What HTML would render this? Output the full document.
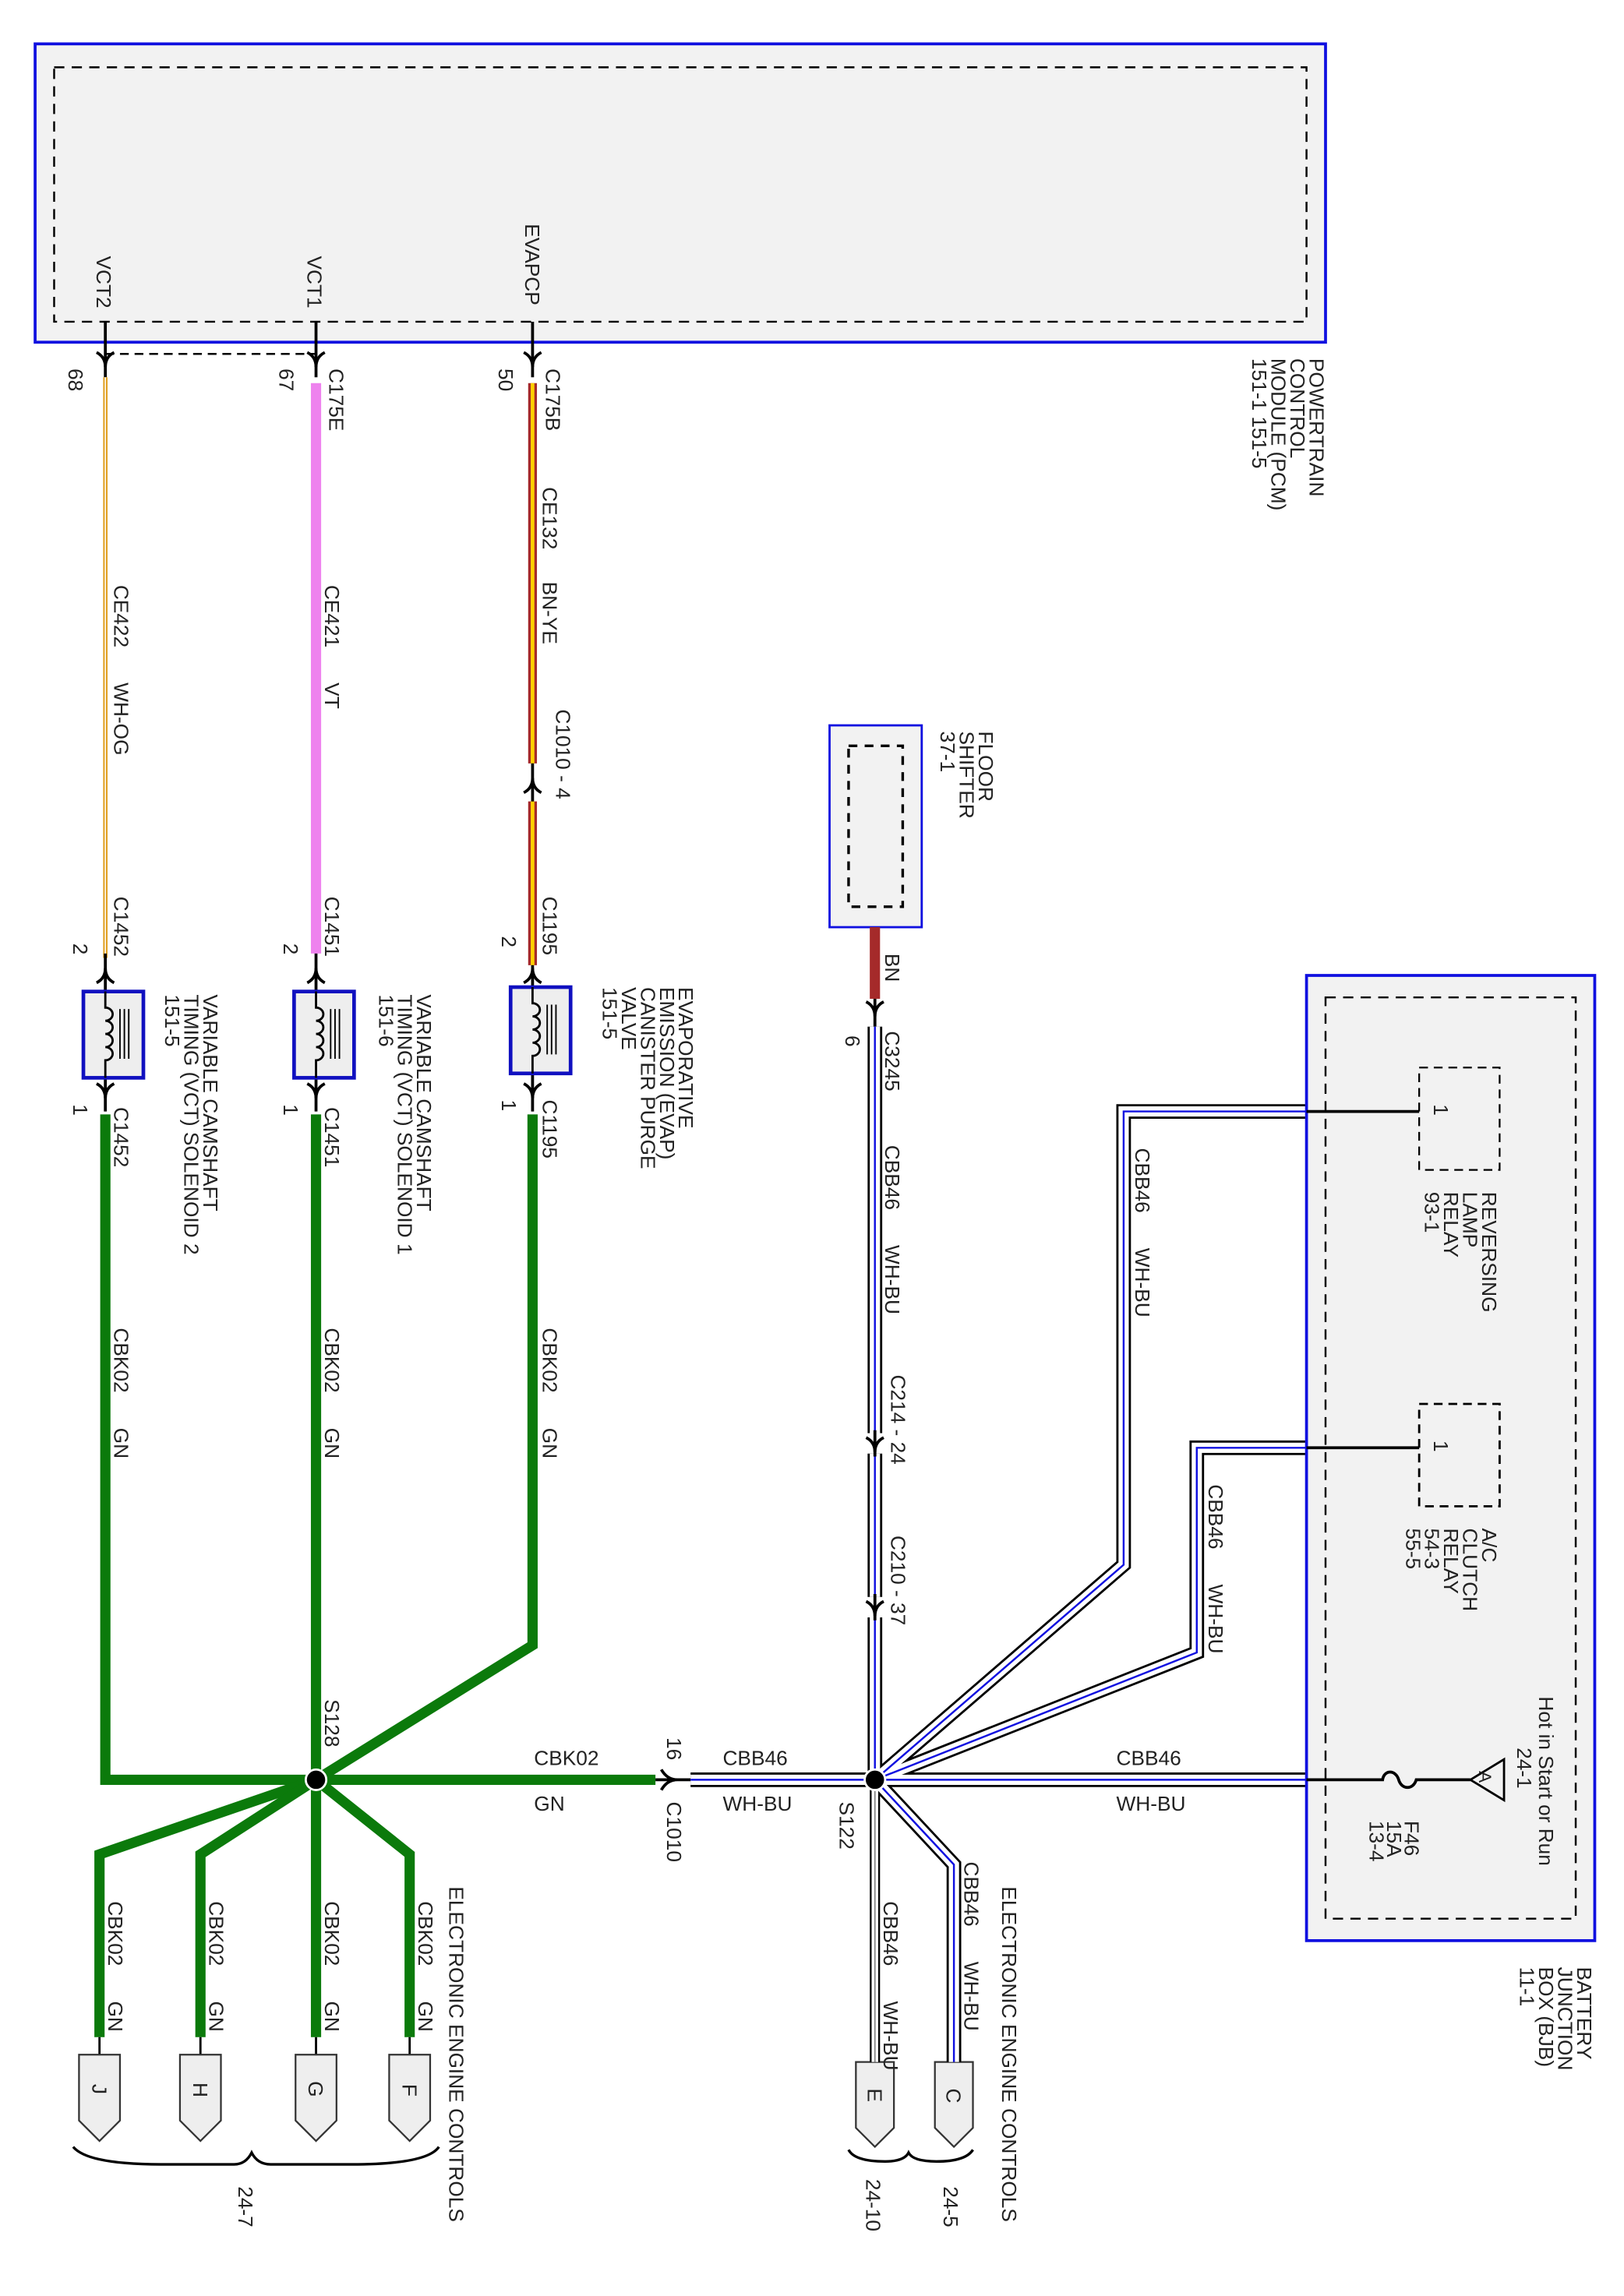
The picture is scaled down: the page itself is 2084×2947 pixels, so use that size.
<!DOCTYPE html>
<html><head><meta charset="utf-8"><style>
html,body{margin:0;padding:0;background:#fff}
svg{display:block}
text{font-family:"Liberation Sans",sans-serif;font-size:14px;fill:#222}
</style></head><body>
<svg width="2084" height="2947" viewBox="0 0 1110 1570" preserveAspectRatio="none" xmlns="http://www.w3.org/2000/svg">
<defs>
<g id="arD"><path d="M-6 -7 Q0 -4 0 3 Q0 -4 6 -7" fill="none" stroke="#000" stroke-width="2"/></g>
</defs>
<!-- PCM -->
<rect x="24" y="30" width="882" height="204" fill="#f2f2f2" stroke="#1010e0" stroke-width="2"/>
<rect x="37" y="46" width="856" height="174" fill="none" stroke="#000" stroke-width="1.3" stroke-dasharray="7,5"/>
<path d="M72 242 H216" stroke="#000" stroke-width="1.3" stroke-dasharray="6,4"/>
<path d="M72 220 V258 M216 220 V258 M364 220 V258" stroke="#000" stroke-width="2"/>
<use href="#arD" x="72" y="248"/><use href="#arD" x="216" y="248"/><use href="#arD" x="364" y="248"/>
<!-- VCT2 wire -->
<path d="M72 258 V655" stroke="#e0a020" stroke-width="3"/>
<path d="M72 258 V655" stroke="#fff" stroke-width="0.8"/>
<!-- VCT1 wire -->
<path d="M216 262 V652" stroke="#ee82ee" stroke-width="7"/>
<!-- EVAP wire -->
<path d="M364 262 V522 M364 548 V660" stroke="#a52a2a" stroke-width="6"/>
<path d="M364 262 V522 M364 548 V660" stroke="#ffd000" stroke-width="2.5"/>
<path d="M364 522 V548" stroke="#000" stroke-width="2"/>
<g transform="translate(364,535) scale(1,-1)"><use href="#arD"/></g>
<path d="M72 652 V760 M216 652 V760 M364 660 V760" stroke="#000" stroke-width="2"/>
<g transform="translate(72,665) scale(1,-1)"><use href="#arD"/></g>
<g transform="translate(216,665) scale(1,-1)"><use href="#arD"/></g>
<g transform="translate(364,665) scale(1,-1)"><use href="#arD"/></g>
<use href="#arD" x="72" y="748"/><use href="#arD" x="216" y="748"/><use href="#arD" x="364" y="748"/>
<!-- components -->
<g id="sol">
<rect x="57" y="678" width="41" height="59" fill="#eee" stroke="#1010c0" stroke-width="2.5"/>
<path d="M72 678 V689 a5 4.5 0 0 1 0 9 a5 4.5 0 0 1 0 9 a5 4.5 0 0 1 0 9 a5 4.5 0 0 1 0 9 V737" fill="none" stroke="#000" stroke-width="1.5"/>
<path d="M82 690 V724 M85 690 V724 M88 690 V724" stroke="#000" stroke-width="1"/>
</g>
<use href="#sol" x="144"/>
<use href="#sol" x="292" y="-3"/>
<!-- green wires -->
<g fill="none" stroke="#0b7a0b" stroke-width="7" stroke-linejoin="miter">
<path d="M72 762 V1217 H448"/>
<path d="M216 762 V1217"/>
<path d="M364 762 V1125 L216 1217"/>
<path d="M216 1217 L68 1268 V1393"/>
<path d="M216 1217 L137 1268 V1393"/>
<path d="M216 1217 V1393"/>
<path d="M216 1217 L280 1268 V1393"/>
</g>
<path d="M448 1217 H472 M452 1210 Q456 1217 463 1217 Q456 1217 452 1224" fill="none" stroke="#000" stroke-width="2"/>
<circle cx="216" cy="1217" r="7" fill="#000" stroke="#fff" stroke-width="1.5"/>
<path d="M68 1393 V1405 M137 1393 V1405 M216 1393 V1405 M280 1393 V1405" stroke="#000" stroke-width="1.5"/>
<g fill="#eee" stroke="#333" stroke-width="1.2">
<path d="M54 1405 H82 V1450 L68 1464 L54 1450 Z"/>
<path d="M123 1405 H151 V1450 L137 1464 L123 1450 Z"/>
<path d="M202 1405 H230 V1450 L216 1464 L202 1450 Z"/>
<path d="M266 1405 H294 V1450 L280 1464 L266 1450 Z"/>
<path d="M585 1410 H611 V1455 L598 1468 L585 1455 Z"/>
<path d="M639 1410 H665 V1455 L652 1468 L639 1455 Z"/>
</g>
<g fill="none" stroke="#000" stroke-width="1.8">
<path d="M50 1468 Q60 1480 110 1480 L160 1480 Q168 1480 172 1472 Q176 1480 185 1480 L240 1480 Q292 1480 300 1468"/>
<path d="M580 1470 Q584 1478 605 1478 Q618 1478 621 1472 Q624 1478 640 1478 Q660 1478 665 1470"/>
</g>
<!-- floor shifter -->
<rect x="567" y="496" width="63" height="138" fill="#f2f2f2" stroke="#1010e0" stroke-width="1.5"/>
<rect x="580" y="510" width="37" height="110" fill="none" stroke="#000" stroke-width="1.8" stroke-dasharray="6,5"/>
<path d="M598 634 V683" stroke="#a52a2a" stroke-width="7"/>
<path d="M598 683 V702" stroke="#000" stroke-width="2"/>
<use href="#arD" x="598" y="692"/>
<!-- harness -->
<g fill="none" stroke-linejoin="miter">
<g stroke="#000" stroke-width="10">
<path d="M472 1217 H893"/>
<path d="M598 702 V980 M598 994 V1092 M598 1106 V1217"/>
<path d="M598 1217 L768 1070 V760 H893"/>
<path d="M598 1217 L818 1130 V990 H893"/>
<path d="M598 1217 L652 1275 V1410"/>
</g>
<g stroke="#000" stroke-width="7"><path d="M598 1217 V1410"/></g>
<g stroke="#fff" stroke-width="7">
<path d="M472 1217 H893"/>
<path d="M598 702 V980 M598 994 V1092 M598 1106 V1217"/>
<path d="M598 1217 L768 1070 V760 H893"/>
<path d="M598 1217 L818 1130 V990 H893"/>
<path d="M598 1217 L652 1275 V1410"/>
</g>
<g stroke="#fff" stroke-width="4.5"><path d="M598 1217 V1410"/></g>
<g stroke="#1010e0" stroke-width="1.3">
<path d="M472 1217 H893"/>
<path d="M598 702 V1217"/>
<path d="M598 1217 L768 1070 V760 H893"/>
<path d="M598 1217 L818 1130 V990 H893"/>
<path d="M598 1217 L652 1275 V1410"/>
</g>
<g stroke="#888" stroke-width="1"><path d="M598 1217 V1410"/></g>
</g>
<path d="M598 978 V996 M598 1090 V1108" stroke="#000" stroke-width="2"/>
<use href="#arD" x="598" y="990"/><use href="#arD" x="598" y="1102"/>
<circle cx="598" cy="1217" r="7" fill="#000" stroke="#fff" stroke-width="1.5"/>
<!-- BJB -->
<rect x="893" y="667" width="197" height="660" fill="#f2f2f2" stroke="#1010e0" stroke-width="2"/>
<rect x="906" y="682" width="171" height="630" fill="none" stroke="#000" stroke-width="1.3" stroke-dasharray="7,5"/>
<path d="M893 760 H970 M893 990 H970" stroke="#000" stroke-width="2"/>
<rect x="970" y="730" width="55" height="70" fill="none" stroke="#000" stroke-width="1.2" stroke-dasharray="6,4"/>
<rect x="970" y="960" width="55" height="70" fill="none" stroke="#000" stroke-width="1.5" stroke-dasharray="6,4"/>
<path d="M893 1217 H945 c1 -7 9 -7 11 0 s10 7 12 0 H1005" fill="none" stroke="#000" stroke-width="2"/>
<path d="M1005 1217 L1028 1203 V1231 Z" fill="none" stroke="#000" stroke-width="1.5"/>
<!-- rotated texts -->
<g>
<text transform="translate(895,245) rotate(90)"><tspan x="0">POWERTRAIN</tspan><tspan x="0" dy="13">CONTROL</tspan><tspan x="0" dy="13">MODULE (PCM)</tspan><tspan x="0" dy="13">151-1   151-5</tspan></text>
<text transform="translate(66,175) rotate(90)">VCT2</text>
<text transform="translate(210,175) rotate(90)">VCT1</text>
<text transform="translate(359,153) rotate(90)">EVAPCP</text>
<text transform="translate(47,252) rotate(90)">68</text>
<text transform="translate(191,252) rotate(90)">67</text>
<text transform="translate(341,252) rotate(90)">50</text>
<text transform="translate(225,252) rotate(90)">C175E</text>
<text transform="translate(373,252) rotate(90)">C175B</text>
<text transform="translate(78,400) rotate(90)">CE422<tspan dx="24">WH-OG</tspan></text>
<text transform="translate(222,400) rotate(90)">CE421<tspan dx="24">VT</tspan></text>
<text transform="translate(371,333) rotate(90)">CE132<tspan dx="22">BN-YE</tspan></text>
<text transform="translate(380,485) rotate(90)">C1010  - 4</text>
<text transform="translate(78,613) rotate(90)">C1452</text>
<text transform="translate(222,613) rotate(90)">C1451</text>
<text transform="translate(371,613) rotate(90)">C1195</text>
<text transform="translate(50,645) rotate(90)">2</text>
<text transform="translate(194,645) rotate(90)">2</text>
<text transform="translate(343,640) rotate(90)">2</text>
<text transform="translate(78,757) rotate(90)">C1452</text>
<text transform="translate(222,757) rotate(90)">C1451</text>
<text transform="translate(371,752) rotate(90)">C1195</text>
<text transform="translate(50,755) rotate(90)">1</text>
<text transform="translate(194,755) rotate(90)">1</text>
<text transform="translate(343,752) rotate(90)">1</text>
<text transform="translate(139,680) rotate(90)"><tspan x="0">VARIABLE CAMSHAFT</tspan><tspan x="0" dy="13">TIMING (VCT) SOLENOID 2</tspan><tspan x="0" dy="13">151-5</tspan></text>
<text transform="translate(285,680) rotate(90)"><tspan x="0">VARIABLE CAMSHAFT</tspan><tspan x="0" dy="13">TIMING (VCT) SOLENOID 1</tspan><tspan x="0" dy="13">151-6</tspan></text>
<text transform="translate(464,675) rotate(90)"><tspan x="0">EVAPORATIVE</tspan><tspan x="0" dy="13">EMISSION (EVAP)</tspan><tspan x="0" dy="13">CANISTER PURGE</tspan><tspan x="0" dy="13">VALVE</tspan><tspan x="0" dy="13">151-5</tspan></text>
<text transform="translate(78,908) rotate(90)">CBK02<tspan dx="24">GN</tspan></text>
<text transform="translate(222,908) rotate(90)">CBK02<tspan dx="24">GN</tspan></text>
<text transform="translate(371,908) rotate(90)">CBK02<tspan dx="24">GN</tspan></text>
<text transform="translate(222,1162) rotate(90)">S128</text>
<text transform="translate(456,1188) rotate(90)">16</text>
<text transform="translate(456,1232) rotate(90)">C1010</text>
<text transform="translate(574,1232) rotate(90)">S122</text>
<text transform="translate(74,1300) rotate(90)">CBK02<tspan dx="24">GN</tspan></text>
<text transform="translate(143,1300) rotate(90)">CBK02<tspan dx="24">GN</tspan></text>
<text transform="translate(222,1300) rotate(90)">CBK02<tspan dx="24">GN</tspan></text>
<text transform="translate(286,1300) rotate(90)">CBK02<tspan dx="24">GN</tspan></text>
<text transform="translate(63,1425) rotate(90)">J</text>
<text transform="translate(132,1424) rotate(90)">H</text>
<text transform="translate(211,1423) rotate(90)">G</text>
<text transform="translate(275,1425) rotate(90)">F</text>
<text transform="translate(593,1428) rotate(90)">E</text>
<text transform="translate(647,1428) rotate(90)">C</text>
<text transform="translate(307,1290) rotate(90)">ELECTRONIC ENGINE CONTROLS</text>
<text transform="translate(685,1290) rotate(90)">ELECTRONIC ENGINE CONTROLS</text>
<text transform="translate(163,1495) rotate(90)">24-7</text>
<text transform="translate(592,1490) rotate(90)">24-10</text>
<text transform="translate(645,1495) rotate(90)">24-5</text>
<text transform="translate(604,1300) rotate(90)">CBB46<tspan dx="24">WH-BU</tspan></text>
<text transform="translate(659,1273) rotate(90)">CBB46<tspan dx="24">WH-BU</tspan></text>
<text transform="translate(669,500) rotate(90)"><tspan x="0">FLOOR</tspan><tspan x="0" dy="13">SHIFTER</tspan><tspan x="0" dy="13">37-1</tspan></text>
<text transform="translate(605,652) rotate(90)">BN</text>
<text transform="translate(605,705) rotate(90)">C3245</text>
<text transform="translate(578,708) rotate(90)">6</text>
<text transform="translate(605,783) rotate(90)">CBB46<tspan dx="24">WH-BU</tspan></text>
<text transform="translate(609,940) rotate(90)">C214  -  24</text>
<text transform="translate(609,1050) rotate(90)">C210  -  37</text>
<text transform="translate(776,785) rotate(90)">CBB46<tspan dx="24">WH-BU</tspan></text>
<text transform="translate(826,1015) rotate(90)">CBB46<tspan dx="24">WH-BU</tspan></text>
<text transform="translate(980,755) rotate(90)">1</text>
<text transform="translate(980,985) rotate(90)">1</text>
<text transform="translate(1013,815) rotate(90)"><tspan x="0">REVERSING</tspan><tspan x="0" dy="13">LAMP</tspan><tspan x="0" dy="13">RELAY</tspan><tspan x="0" dy="13">93-1</tspan></text>
<text transform="translate(1013,1045) rotate(90)"><tspan x="0">A/C</tspan><tspan x="0" dy="13">CLUTCH</tspan><tspan x="0" dy="13">RELAY</tspan><tspan x="0" dy="13">54-3</tspan><tspan x="0" dy="13">55-5</tspan></text>
<text transform="translate(1052,1160) rotate(90)">Hot in Start or Run</text>
<text transform="translate(1037,1195) rotate(90)">24-1</text>
<text transform="translate(1011,1211) rotate(90)" style="font-size:12px">A</text>
<text transform="translate(960,1245) rotate(90)"><tspan x="0">F46</tspan><tspan x="0" dy="12">15A</tspan><tspan x="0" dy="12">13-4</tspan></text>
<text transform="translate(1078,1345) rotate(90)"><tspan x="0">BATTERY</tspan><tspan x="0" dy="13">JUNCTION</tspan><tspan x="0" dy="13">BOX (BJB)</tspan><tspan x="0" dy="13">11-1</tspan></text>
</g>
<text x="365" y="1207">CBK02</text>
<text x="365" y="1238">GN</text>
<text x="494" y="1207">CBB46</text>
<text x="494" y="1238">WH-BU</text>
<text x="763" y="1207">CBB46</text>
<text x="763" y="1238">WH-BU</text>
</svg>
</body></html>
